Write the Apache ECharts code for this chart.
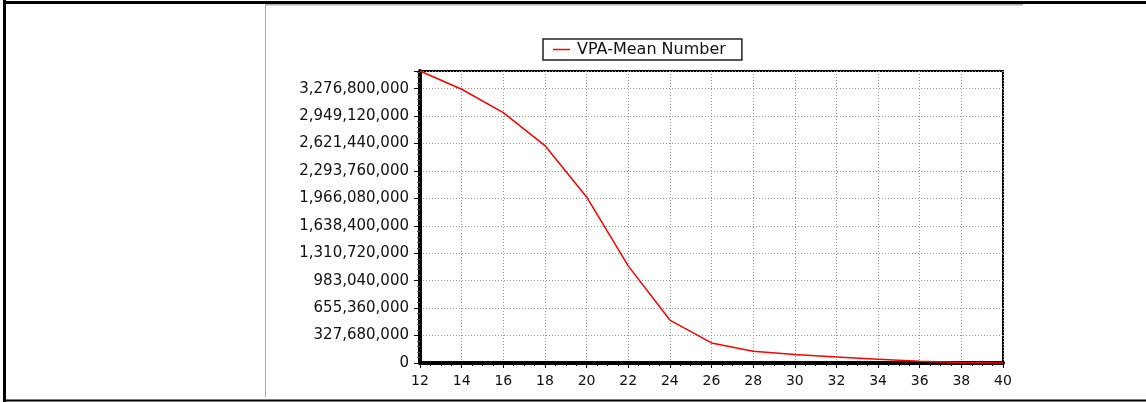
<!DOCTYPE html>
<html>
<head>
<meta charset="utf-8">
<style>
  html, body { margin: 0; padding: 0; background: #fff; }
  #chart { width: 1146px; height: 402px; }
</style>
<script src="https://cdn.jsdelivr.net/npm/echarts@6/dist/echarts.min.js"></script>
</head>
<body>
<div id="chart"></div>
<script>
// Mean number per length class (VPA output)
const lengths = [12, 14, 16, 18, 20, 22, 24, 26, 28, 30, 32, 34, 36, 38, 40];
const meanNumber = [
  3488000000, 3270000000, 2990000000, 2597000000, 1984000000,
  1160000000, 513000000, 240000000, 141000000, 101000000,
  73000000, 46000000, 20000000, 5000000, 0
];
const seriesName = 'VPA-Mean Number';
const yStep = 327680000;
const xStep = 2;

const chart = echarts.init(document.getElementById('chart'), null, { renderer: 'canvas' });

const labelFont = 'DejaVu Sans, Verdana, sans-serif';

chart.setOption({
  animation: false,
  backgroundColor: '#ffffff',
  grid: {
    left: 420, right: 143, top: 71, bottom: 39,
    show: true, borderColor: '#000', borderWidth: 2, backgroundColor: 'transparent'
  },
  legend: {
    data: [seriesName],
    left: 543, top: 39,
    padding: [2, 16, 2, 10],
    borderColor: '#222', borderWidth: 1.5,
    icon: 'rect', itemWidth: 17, itemHeight: 1.5,
    textStyle: { fontFamily: labelFont, fontSize: 16, color: '#111', lineHeight: 17, padding: [0, 0, 0, 2] }
  },
  xAxis: {
    type: 'value',
    min: lengths[0], max: lengths[lengths.length - 1], interval: xStep,
    axisLine: { show: true, onZero: false, lineStyle: { color: '#000', width: 4 } },
    axisTick: { show: true, length: 5, lineStyle: { color: '#000', width: 1 } },
    minorTick: { show: true, splitNumber: 4, length: 3, lineStyle: { color: '#000', width: 1 } },
    axisLabel: { fontFamily: labelFont, fontSize: 14, color: '#111', margin: 11 },
    splitLine: { show: true, lineStyle: { color: '#9a9a9a', type: [1, 2], width: 1 } }
  },
  yAxis: {
    type: 'value',
    min: 0,
    max: function (v) { return v.max; },
    interval: yStep,
    axisLine: { show: true, lineStyle: { color: '#000', width: 4 } },
    axisTick: { show: true, length: 6, lineStyle: { color: '#000', width: 1 } },
    minorTick: { show: true, splitNumber: 5, length: 3, lineStyle: { color: '#555', width: 1 } },
    axisLabel: {
      fontFamily: labelFont, fontSize: 15, color: '#111', margin: 11,
      showMaxLabel: false,
      formatter: function (v) { return Math.round(v).toLocaleString('en-US'); }
    },
    splitLine: { show: true, lineStyle: { color: '#9a9a9a', type: [1, 2], width: 1 } }
  },
  series: [{
    name: seriesName,
    type: 'line',
    z: 5,
    data: lengths.map((x, i) => [x, meanNumber[i]]),
    symbol: 'none',
    lineStyle: { color: '#ff0000', width: 1.5 },
    itemStyle: { color: '#ff0000' }
  }],
  graphic: [
    // page frame
    { type: 'rect', silent: true, shape: { x: 265, y: 4, width: 758, height: 1.5 }, style: { fill: '#b0b0b0' } },
    { type: 'rect', silent: true, shape: { x: 265, y: 4, width: 1, height: 393 }, style: { fill: '#a8a8a8' } },
    { type: 'rect', silent: true, shape: { x: 3, y: 1, width: 1143, height: 3 }, style: { fill: '#000' } },
    { type: 'rect', silent: true, shape: { x: 3, y: 0, width: 3, height: 402 }, style: { fill: '#000' } },
    { type: 'rect', silent: true, shape: { x: 3, y: 399.5, width: 1143, height: 2 }, style: { fill: '#000' } }
  ]
});
</script>
</body>
</html>
